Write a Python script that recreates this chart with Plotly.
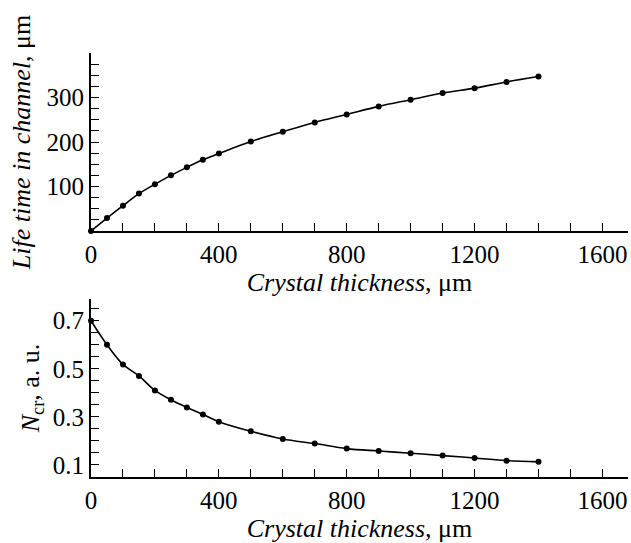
import plotly.graph_objects as go
from plotly.subplots import make_subplots

thickness = [0, 50, 100, 150, 200, 250, 300, 350, 400, 500, 600, 700, 800, 900, 1000, 1100, 1200, 1300, 1400]
life_time = [0, 29, 57, 84, 105, 125, 143, 160, 174, 201, 223, 244, 262, 280, 295, 310, 321, 335, 347]
n_cr = [0.70, 0.60, 0.518, 0.47, 0.41, 0.371, 0.339, 0.31, 0.28, 0.24, 0.208, 0.189, 0.168, 0.158, 0.149, 0.139, 0.129, 0.118, 0.113]

FONT = "Liberation Serif"
W, H = 631, 543
ML, MR, MT, MB = 91, 3, 53, 66
ph = H - MT - MB

fig = make_subplots(rows=2, cols=1)
line_style = dict(color="black", width=1.6)
marker_style = dict(color="black", size=6)
fig.add_trace(go.Scatter(x=thickness, y=life_time, mode="lines+markers", line=line_style,
                         marker=marker_style, line_shape="spline", cliponaxis=False), row=1, col=1)
fig.add_trace(go.Scatter(x=thickness, y=n_cr, mode="lines+markers", line=line_style,
                         marker=marker_style, line_shape="spline", cliponaxis=False), row=2, col=1)

axis_common = dict(showgrid=False, zeroline=False, showline=True, linecolor="black", linewidth=2,
                   ticks="inside", ticklen=8, tickwidth=1.2, tickcolor="black", automargin=False,
                   tickfont=dict(family=FONT, size=25, color="black"))
tfont = dict(family=FONT, size=26, color="black")
xtitle = dict(text="<i>Crystal thickness</i>, μm", font=tfont, standoff=2)

top_dom = [(477 - 231) / ph, 1.0]
bot_dom = [0.0, (477 - 299) / ph]

fig.update_xaxes(range=[0, 1680], tickvals=[0, 400, 800, 1200, 1600],
                 minor=dict(dtick=100, tick0=0, ticks="inside", ticklen=8, tickcolor="black", tickwidth=1.2),
                 title=xtitle, **axis_common)
fig.update_yaxes(range=[0, 400], domain=top_dom, tickvals=[100, 200, 300],
                 minor=dict(dtick=25, tick0=0, ticks="inside", ticklen=8, tickcolor="black", tickwidth=1.2),
                 title=dict(text="<i>Life time in channel</i>, μm", font=tfont, standoff=8),
                 row=1, col=1, **axis_common)
fig.update_yaxes(range=[0.05, 0.79], domain=bot_dom, tickvals=[0.1, 0.3, 0.5, 0.7],
                 minor=dict(dtick=0.05, tick0=0.05, ticks="inside", ticklen=8, tickcolor="black", tickwidth=1.2),
                 title=dict(text="<i>N</i><sub>cr</sub>, a. u.", font=tfont, standoff=6),
                 row=2, col=1, **axis_common)

fig.update_layout(width=W, height=H, margin=dict(l=ML, r=MR, t=MT, b=MB),
                  paper_bgcolor="white", plot_bgcolor="white", showlegend=False)
fig.write_html("out.html", config={"displayModeBar": False},
               post_script="document.body.style.margin='0';document.body.style.overflow='hidden';")
